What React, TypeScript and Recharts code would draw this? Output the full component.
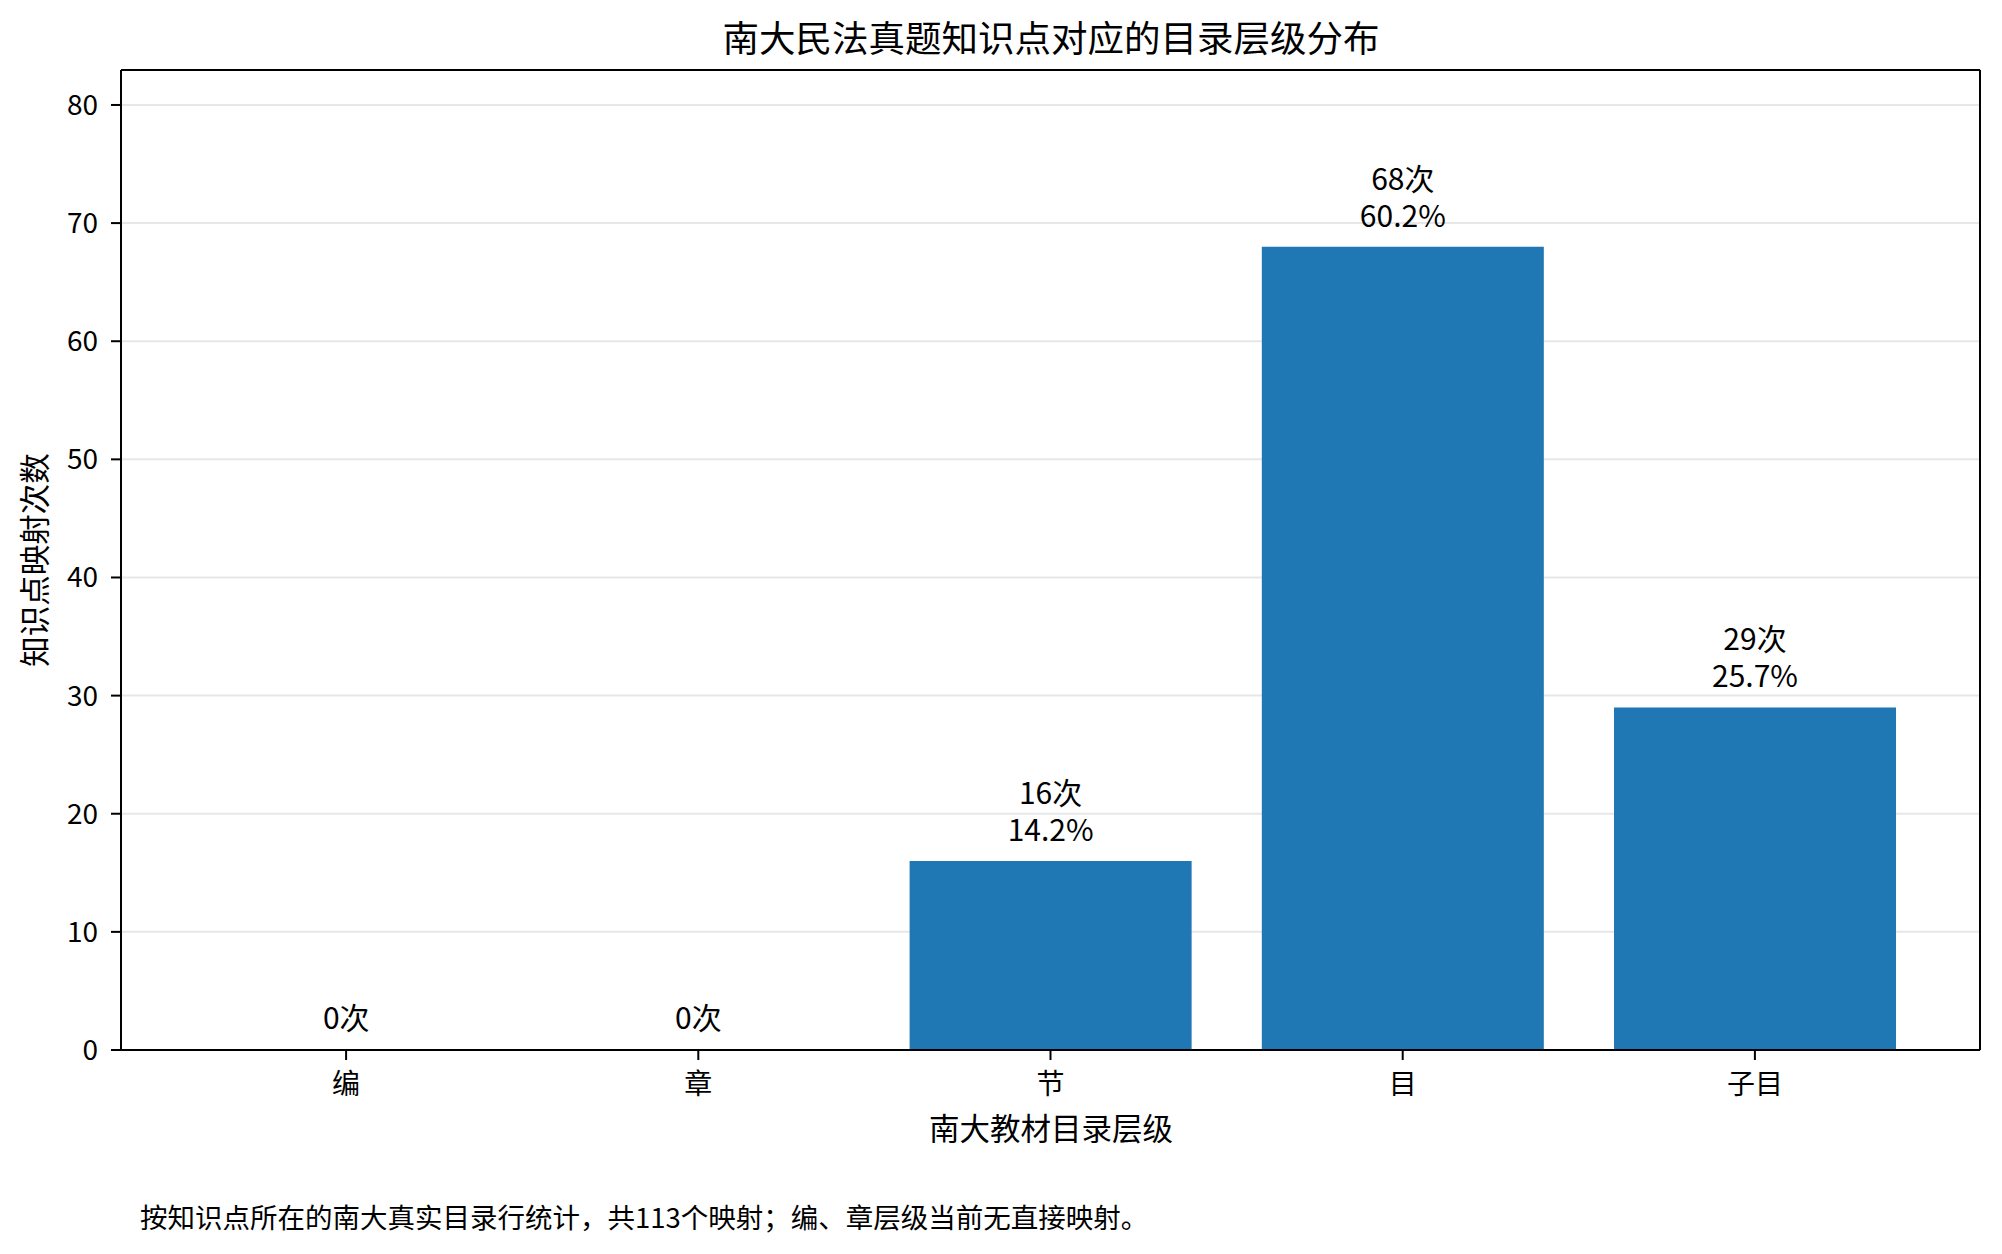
import React from 'react';
import { BarChart, Bar, XAxis, YAxis, CartesianGrid, LabelList } from 'recharts';

const levels = ['编', '章', '节', '目', '子目'];
const counts = [0, 0, 16, 68, 29];
const yTicks = [0, 10, 20, 30, 40, 50, 60, 70, 80];
const yMax = 82.96;

const total = counts.reduce((a, b) => a + b, 0);
const data = levels.map((level, i) => ({
  level,
  count: counts[i],
  label: counts[i] > 0 ? `${counts[i]}次\n${((counts[i] / total) * 100).toFixed(1)}%` : `${counts[i]}次`,
}));

const FONT = '"Noto Sans CJK SC", "Noto Sans", sans-serif';

function XTick(props: any) {
  const { x, y, payload } = props;
  return (
    <text x={x} y={y + 32} textAnchor="middle" fontSize={28} fontFamily={FONT} fill="#000">
      {payload.value}
    </text>
  );
}

function YTick(props: any) {
  const { x, y, payload } = props;
  return (
    <text x={x - 11} y={y + 10} textAnchor="end" fontSize={28} fontFamily={FONT} fill="#000">
      {payload.value}
    </text>
  );
}

function BarLabel(props: any) {
  const vb = props.viewBox ?? props;
  const x = vb.x ?? props.x;
  const y = vb.y ?? props.y;
  const width = vb.width ?? props.width;
  const lines = String(props.value).split('\n');
  const cx = x + width / 2;
  const base = y - 20;
  return (
    <text textAnchor="middle" fontSize={30} fontFamily={FONT} fill="#000">
      {lines.map((t, i) => (
        <tspan key={i} x={cx} y={base - (lines.length - 1 - i) * 37}>
          {t}
        </tspan>
      ))}
    </text>
  );
}

export default function App() {
  return (
    <div style={{ position: 'absolute', left: 0, top: 0, width: 2002, height: 1254, background: '#fff', fontFamily: FONT }}>
      <BarChart
        width={2002}
        height={1254}
        data={data}
        margin={{ top: 69, right: 21, left: 61, bottom: 144 }}
        barCategoryGap="10%"
      >
        <XAxis
          dataKey="level"
          padding={{ left: 49, right: 49 }}
          interval={0}
          height={60}
          tickSize={10}
          axisLine={{ stroke: '#000', strokeWidth: 2 }}
          tickLine={{ stroke: '#000', strokeWidth: 2 }}
          tick={<XTick />}
        />
        <XAxis
          xAxisId="top"
          orientation="top"
          dataKey="level"
          padding={{ left: 49, right: 49 }}
          height={1}
          tick={false}
          tickLine={false}
          axisLine={{ stroke: '#000', strokeWidth: 2 }}
        />
        <YAxis
          type="number"
          domain={[0, yMax]}
          ticks={yTicks}
          width={60}
          tickSize={10}
          axisLine={{ stroke: '#000', strokeWidth: 2 }}
          tickLine={{ stroke: '#000', strokeWidth: 2 }}
          tick={<YTick />}
        />
        <YAxis
          yAxisId="right"
          orientation="right"
          type="number"
          domain={[0, yMax]}
          width={1}
          tick={false}
          tickLine={false}
          axisLine={{ stroke: '#000', strokeWidth: 2 }}
        />
        <Bar dataKey="count" fill="#1f77b4" minPointSize={1} isAnimationActive={false}>
          <LabelList dataKey="label" content={<BarLabel />} />
        </Bar>
        <Bar xAxisId="top" yAxisId="right" dataKey="count" fill="transparent" isAnimationActive={false} />
        <CartesianGrid vertical={false} stroke="#b0b0b0" strokeOpacity={0.3} strokeWidth={2} />
      </BarChart>
      <svg
        width={2002}
        height={1254}
        style={{ position: 'absolute', left: 0, top: 0, pointerEvents: 'none' }}
      >
        <text x={1051} y={52} textAnchor="middle" fontSize={36.5} fontFamily={FONT} fill="#000">
          南大民法真题知识点对应的目录层级分布
        </text>
        <text x={1051} y={1140} textAnchor="middle" fontSize={30.5} fontFamily={FONT} fill="#000">
          南大教材目录层级
        </text>
        <text
          x={46}
          y={560}
          textAnchor="middle"
          fontSize={30.5}
          fontFamily={FONT}
          fill="#000"
          transform="rotate(-90 46 560)"
        >
          知识点映射次数
        </text>
        <text x={140} y={1228} fontSize={27.5} fontFamily={FONT} fill="#000">
          按知识点所在的南大真实目录行统计，共113个映射；编、章层级当前无直接映射。
        </text>
      </svg>
    </div>
  );
}
